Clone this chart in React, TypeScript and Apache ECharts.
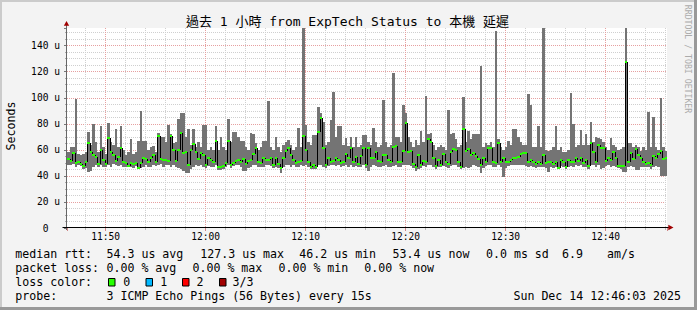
import React, { useEffect, useRef } from 'react';
import * as echarts from 'echarts';

// ---------- texts ----------
const TITLE = '過去 1 小時 from ExpTech Status to 本機 延遲';
const Y_NAME = 'Seconds';
const WATERMARK = 'RRDTOOL / TOBI OETIKER';
const Y_UNIT = 'u';
const ROW_LABELS = ['median rtt:', 'packet loss:', 'loss color:', 'probe:'];
const RTT_STATS = ['54.3 us avg', '127.3 us max', '46.2 us min', '53.4 us now', '0.0 ms sd', '6.9', 'am/s'];
const LOSS_STATS = ['0.00 % avg', '0.00 % max', '0.00 % min', '0.00 % now'];
const LOSS_LABELS = ['0', '1', '2', '3/3'];
const LOSS_COLORS = ['#26ff00', '#00b8ff', '#ff0000', '#a10000'];
const PROBE_TEXT = '3 ICMP Echo Pings (56 Bytes) every 15s';
const TIMESTAMP = 'Sun Dec 14 12:46:03 2025';

// ---------- time base (minutes after 11:00) ----------
const START_MIN = 46.14; // left edge of the plot, 11:46:08
const STEP_MIN = 0.25; // one sample every 15 s
const SPAN_MIN = 60;
const Y_MAX = 153.56;

// ---------- data: microseconds, one value per 15 s sample ----------
const MED = [
  52.7, 51.7, 57.3, 49.7, 50.4, 49.5, 47.6, 50.4, 65.0, 58.0,
  56.0, 54.6, 48.9, 59.9, 52.0, 49.0, 69.1, 58.0, 56.3, 51.7,
  54.6, 61.7, 50.9, 49.7, 47.6, 50.0, 48.9, 49.7, 46.2, 50.0,
  53.4, 52.9, 51.0, 54.0, 56.0, 50.4, 70.6, 53.1, 52.0, 51.9,
  51.5, 70.7, 60.0, 51.5, 60.0, 73.2, 57.4, 58.0, 48.4, 60.0,
  64.6, 58.0, 53.0, 57.4, 56.0, 48.4, 54.0, 52.3, 51.0, 66.9,
  47.2, 47.2, 47.7, 50.0, 66.9, 48.4, 50.0, 51.5, 52.3, 51.0,
  52.8, 49.0, 51.5, 52.3, 56.6, 61.7, 51.0, 49.7, 54.0, 52.3,
  52.3, 54.0, 48.4, 53.5, 49.0, 46.4, 53.5, 59.2, 61.2, 56.1,
  52.3, 50.2, 50.5, 51.5, 70.7, 60.0, 51.0, 47.2, 48.4, 47.2,
  74.0, 84.8, 61.7, 48.4, 54.0, 51.0, 51.5, 53.5, 52.3, 49.7,
  51.0, 56.6, 54.0, 61.2, 50.5, 54.8, 49.0, 55.0, 61.7, 48.4,
  61.7, 54.0, 53.5, 58.7, 51.5, 50.5, 56.1, 56.1, 52.3, 50.5,
  62.5, 63.3, 50.5, 51.0, 59.2, 80.4, 58.7, 59.2, 49.0, 47.2,
  56.1, 48.4, 51.5, 50.5, 68.4, 66.3, 53.5, 47.9, 52.3, 48.4,
  56.6, 50.5, 49.0, 58.2, 60.7, 60.0, 50.5, 47.2, 76.0, 59.2,
  60.5, 56.1, 57.4, 55.0, 52.8, 48.4, 53.5, 51.0, 61.2, 61.7,
  51.0, 49.7, 65.0, 51.0, 53.5, 50.5, 51.0, 52.3, 53.5, 53.5,
  54.8, 56.6, 57.4, 57.4, 51.0, 52.3, 50.5, 49.0, 51.0, 49.0,
  56.1, 49.7, 50.5, 51.0, 49.0, 50.5, 46.4, 52.3, 51.0, 47.2,
  52.3, 51.0, 50.5, 53.5, 51.5, 54.0, 49.7, 52.3, 47.7, 65.0,
  58.0, 51.0, 63.8, 61.2, 61.7, 51.5, 54.0, 52.3, 58.7, 54.0,
  47.9, 47.9, 47.9, 127.3, 51.0, 57.4, 53.0, 60.7, 56.1, 54.0,
  50.5, 49.0, 49.7, 48.4, 55.6, 53.5, 56.6, 59.2, 53.0, 53.4,
];

const HI = [
  58, 62, 62, 99, 57, 56, 57, 58, 74, 64,
  80, 66, 58, 78, 62, 57, 81, 66, 64, 76,
  62, 78, 60, 56, 58, 68, 57, 58, 67, 90,
  67, 67, 60, 62, 63, 58, 73, 70, 70, 66,
  79, 72, 65, 66, 84, 88, 88, 70, 76, 64,
  76, 62, 66, 62, 79, 79, 60, 62, 60, 78,
  60, 70, 62, 60, 84, 66, 74, 74, 70, 67,
  67, 62, 60, 73, 72, 65, 60, 62, 67, 67,
  97.5, 62, 60, 70, 62, 58, 64, 66, 67.6, 64,
  60, 62, 76.5, 62, 153.5, 79, 66, 64, 71.5, 71.5,
  93, 88, 81.7, 64, 66, 83, 104.7, 70, 78, 78,
  64, 69, 63, 70, 62, 70, 62, 64, 71.5, 71.5,
  66, 64, 76.5, 66, 62, 64, 98.3, 66, 62, 64,
  118.8, 70, 70, 66, 94.5, 88, 70, 66, 62, 67.6,
  64, 74.5, 66, 101.6, 72, 72.7, 64, 60, 62, 64,
  62, 60, 90.6, 72, 72.7, 68, 62, 64, 100.9, 66,
  74.5, 68, 72, 72, 72, 124, 62, 65, 64, 66,
  62, 151.3, 68, 62, 60, 62, 67, 64, 76, 76,
  70, 66, 64, 64, 103, 94.5, 62, 62, 78.6, 62,
  153.5, 60, 59, 60, 62, 78, 60, 62, 58, 58,
  60, 104, 80, 62, 64, 75, 64, 72, 64, 81.7,
  66, 70, 69, 68, 66, 62, 60, 69, 64, 62,
  60, 61, 62, 153.5, 65, 65, 62, 64, 62, 59,
  62, 60, 88.8, 62, 85.5, 62, 60, 100, 62, 59,
];

const LO = [
  48, 48.5, 49, 47, 48, 47.5, 45.5, 46, 43, 44,
  47, 48, 46.5, 48, 47, 46.5, 48, 47, 49, 48,
  47.5, 48, 47, 47, 46.5, 47, 46, 47.5, 45, 46,
  47, 48, 47, 46.5, 48, 47.5, 48, 49, 47, 48,
  48, 47, 48.5, 47, 46, 45, 44, 42, 42.5, 45,
  47, 48, 47.5, 48, 47, 46, 47.5, 47, 46.5, 48,
  44.5, 44.5, 45, 47, 48, 46, 47.5, 48, 48.5, 47,
  43.5, 43.5, 46, 47, 48, 48.5, 47, 46.5, 47, 48,
  48, 47.5, 46, 47, 46, 42, 47, 48, 48, 47,
  48, 47, 46.5, 48, 47.5, 48, 47, 45.5, 45.5, 45,
  48, 48, 47, 46, 47.5, 48, 48, 47.5, 48, 47,
  47.5, 48, 47, 48, 47, 47.5, 46.5, 47, 48, 46,
  44, 46.5, 48, 47.5, 47, 46.5, 47.5, 48, 47, 46.5,
  47.5, 48, 47, 46.5, 48, 48, 48, 47.5, 46, 44,
  45, 46, 47.5, 47, 48, 48.5, 47, 45.5, 47, 46.5,
  47.5, 47, 46, 47.5, 48, 48, 47, 45.5, 46, 47,
  46, 47, 48, 47.5, 47, 42, 46, 47.5, 48, 48,
  47, 46.5, 48, 47, 39.5, 46, 47.5, 48, 48, 48,
  48.5, 48, 48, 47.5, 47, 47.5, 46.5, 46, 47, 46.5,
  47, 46, 43, 46.5, 46, 47, 45, 47.5, 47, 45.5,
  47, 47.5, 46.5, 48, 47.5, 48, 46.5, 47, 45.5, 48,
  48, 47, 48, 45.5, 46, 47.5, 48, 47, 47.5, 47,
  46, 45, 43, 43, 46.5, 47.5, 47, 44.5, 44.5, 47,
  47, 46.5, 46.5, 45.5, 47, 47.5, 47, 40.3, 40.3, 40.3,
];

// ---------- styles ----------
const MONO = '"DejaVu Sans Mono", "Noto Sans CJK TC", monospace';
const BG = '#f3f3f3';
const SMOKE = '#747474';
const MAJOR_GRID = '#e6a0a0';
const MINOR_GRID = '#cfcfcf';
const ARROW = '#a00000';

function timeLabel(v: number): string {
  const m = Math.round(v);
  if (Math.abs(v - m) > 1e-6 || m % 10 !== 0) return '';
  const h = 11 + Math.floor(m / 60);
  const mm = m % 60;
  return `${h}:${String(mm).padStart(2, '0')}`;
}

function valueLabel(v: number): string {
  const r = Math.round(v);
  if (Math.abs(v - r) > 1e-6 || r % 20 !== 0) return '';
  return r === 0 ? '0\u00a0\u00a0' : `${r} ${Y_UNIT}`;
}

function txt(text: string, x: number, y: number, size: number, extra: any = {}) {
  const align = extra.align || 'left';
  return {
    type: 'text',
    x,
    y,
    rotation: extra.rotation || 0,
    silent: true,
    style: {
      text,
      x: 0,
      y: 0,
      font: `${size}px ${MONO}`,
      fill: extra.fill || '#000',
      align,
      textAlign: align,
      verticalAlign: 'middle',
      textVerticalAlign: 'middle',
    },
  };
}

export default function App() {
  const ref = useRef<HTMLDivElement>(null);

  useEffect(() => {
    if (!ref.current) return;
    const chart = echarts.init(ref.current, undefined, { renderer: 'svg' });

    const data = MED.map((m, i) => [START_MIN + i * STEP_MIN, LO[i], HI[i], m]);

    const graphic: any[] = [];
    // frame
    graphic.push({ type: 'rect', silent: true, shape: { x: 0, y: 0, width: 697, height: 2 }, style: { fill: '#cbcbcb' } });
    graphic.push({ type: 'rect', silent: true, shape: { x: 0, y: 0, width: 2, height: 310 }, style: { fill: '#cbcbcb' } });
    graphic.push({ type: 'rect', silent: true, shape: { x: 694, y: 0, width: 3, height: 310 }, style: { fill: '#999999' } });
    graphic.push({ type: 'rect', silent: true, shape: { x: 0, y: 307, width: 697, height: 3 }, style: { fill: '#999999' } });
    // axes with arrows
    graphic.push({ type: 'line', silent: true, z: 100, shape: { x1: 66.5, y1: 230, x2: 66.5, y2: 24 }, style: { stroke: '#666', lineWidth: 1 } });
    graphic.push({ type: 'line', silent: true, z: 100, shape: { x1: 62.5, y1: 227.5, x2: 669, y2: 227.5 }, style: { stroke: '#000', lineWidth: 1 } });
    graphic.push({ type: 'polygon', silent: true, z: 100, shape: { points: [[63.8, 25.8], [69.2, 25.8], [66.5, 21]] }, style: { fill: ARROW } });
    graphic.push({ type: 'polygon', silent: true, z: 100, shape: { points: [[668.3, 224.8], [668.3, 230.2], [673.5, 227.5]] }, style: { fill: ARROW } });
    // title, axis name, watermark
    graphic.push(txt(TITLE, 347.5, 21.5, 13, { align: 'center' }));
    graphic.push(txt(Y_NAME, 11, 126, 11.6, { align: 'center', rotation: Math.PI / 2 }));
    graphic.push(txt(WATERMARK, 687.5, 59, 8.2, { align: 'center', rotation: -Math.PI / 2, fill: '#ababab' }));
    // legend rows
    const rowY = [254, 268, 282, 296];
    ROW_LABELS.forEach((t, i) => graphic.push(txt(t, 15.3, rowY[i], 11.6)));
    const rttX = [106.5, 200.3, 299.3, 392.6, 486, 562, 607];
    RTT_STATS.forEach((t, i) => graphic.push(txt(t, rttX[i], rowY[0], 11.6)));
    const lossX = [106.5, 192.5, 278.5, 364.3];
    LOSS_STATS.forEach((t, i) => graphic.push(txt(t, lossX[i], rowY[1], 11.6)));
    const boxX = [108.5, 146, 182.5, 219.5];
    const boxLabelX = [123.3, 160.3, 196.6, 232.6];
    LOSS_LABELS.forEach((t, i) => {
      graphic.push({ type: 'rect', silent: true, shape: { x: boxX[i], y: 278.5, width: 6.5, height: 7.5 }, style: { fill: LOSS_COLORS[i], stroke: '#000', lineWidth: 1 } });
      graphic.push(txt(t, boxLabelX[i], rowY[2], 11.6));
    });
    graphic.push(txt(PROBE_TEXT, 106.5, rowY[3], 11.6));
    graphic.push(txt(TIMESTAMP, 681, rowY[3], 11.6, { align: 'right' }));

    const axisFont = { fontFamily: MONO, fontSize: 9.6, color: '#000' };

    chart.setOption({
      animation: false,
      backgroundColor: BG,
      textStyle: { fontFamily: MONO },
      grid: {
        left: 67,
        top: 28,
        width: 600,
        height: 200,
        show: true,
        backgroundColor: '#ffffff',
        borderWidth: 0,
        containLabel: false,
        outerBoundsMode: 'none',
      },
      xAxis: {
        type: 'value',
        min: START_MIN,
        max: START_MIN + SPAN_MIN,
        splitNumber: 5,
        axisLine: { show: false },
        axisTick: { show: true, length: 3, lineStyle: { color: '#d08888' } },
        minorTick: { show: true, splitNumber: 5, length: 2, lineStyle: { color: '#b8b8b8' } },
        splitLine: { show: true, showMinLine: false, showMaxLine: false, lineStyle: { color: MAJOR_GRID, type: [1, 1], width: 1 } },
        minorSplitLine: { show: true, lineStyle: { color: MINOR_GRID, type: [1, 1], width: 1 } },
        axisLabel: { ...axisFont, margin: 4, formatter: timeLabel, showMinLabel: false, showMaxLabel: false },
      },
      yAxis: {
        type: 'value',
        min: 0,
        max: Y_MAX,
        interval: 20,
        axisLine: { show: false },
        axisTick: { show: true, length: 3, lineStyle: { color: '#777' } },
        minorTick: { show: true, splitNumber: 4, length: 2, lineStyle: { color: '#aaa' } },
        splitLine: { show: true, showMinLine: false, showMaxLine: false, lineStyle: { color: MAJOR_GRID, type: [1, 1], width: 1 } },
        minorSplitLine: { show: true, lineStyle: { color: MINOR_GRID, type: [1, 1], width: 1 } },
        axisLabel: { ...axisFont, margin: 7, formatter: valueLabel, showMaxLabel: false },
      },
      series: [
        {
          type: 'custom',
          name: 'smoke',
          clip: true,
          z: 2,
          data,
          encode: { x: 0, y: [1, 2] },
          renderItem: (params: any, api: any) => {
            const t = api.value(0);
            const lo = api.value(1);
            const hi = api.value(2);
            const p0 = api.coord([t, lo]);
            const p1 = api.coord([t + STEP_MIN, hi]);
            const xa = Math.round(p0[0]);
            const xb = Math.round(p1[0]);
            const ya = Math.round(p1[1]);
            const yb = Math.round(p0[1]);
            return {
              type: 'rect',
              shape: { x: xa, y: ya, width: xb - xa, height: yb - ya },
              style: { fill: SMOKE },
            };
          },
        },
        {
          type: 'custom',
          name: 'median',
          clip: true,
          z: 3,
          data,
          encode: { x: 0, y: 3 },
          renderItem: (params: any, api: any) => {
            const i = params.dataIndex;
            const t = api.value(0);
            const m = api.value(3);
            const p = api.coord([t, m]);
            const q = api.coord([t + STEP_MIN, m]);
            const xa = Math.round(p[0]);
            const xb = Math.round(q[0]);
            const ym = Math.round(p[1]);
            const children: any[] = [];
            if (i > 0) {
              const prev = api.coord([t, MED[i - 1]]);
              const yp = Math.round(prev[1]);
              if (yp !== ym) {
                children.push({
                  type: 'line',
                  shape: { x1: xa + 0.5, y1: yp, x2: xa + 0.5, y2: ym },
                  style: { stroke: '#000', lineWidth: 1 },
                });
              }
            }
            children.push({
              type: 'rect',
              shape: { x: xa, y: ym - 1, width: xb - xa, height: 2 },
              style: { fill: LOSS_COLORS[0] },
            });
            return { type: 'group', children };
          },
        },
      ],
      graphic,
    });

    return () => chart.dispose();
  }, []);

  return (
    <div
      ref={ref}
      style={{ position: 'fixed', left: 0, top: 0, width: 697, height: 310, background: BG }}
    />
  );
}
